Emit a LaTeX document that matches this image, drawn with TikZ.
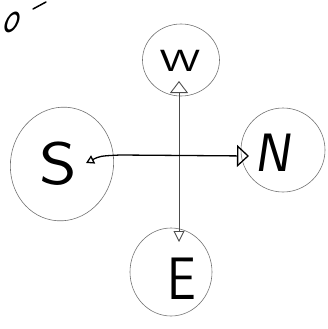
\documentclass[tikz,border=0pt]{standalone}
\usetikzlibrary{arrows.meta,shapes.geometric}
\begin{document}
\begin{tikzpicture}[x=1pt,y=-1pt,
  ring/.style={draw=black!55,line width=0.6pt,ellipse,inner sep=0pt},
  letter/.style={font=\sffamily,inner sep=0pt},
  thinline/.style={draw=black!70,line width=0.9pt},
  thickline/.style={draw=black,line width=1.3pt}]
\useasboundingbox (0,0) rectangle (328,329);
% rings
\node[ring,minimum width=77pt,minimum height=72pt] (Wc) at (181,60) {};
\node[ring,minimum width=103pt,minimum height=114pt,rotate=-10] (Sc) at (62,164) {};
\node[ring,minimum width=84pt,minimum height=84pt] (Nc) at (283,150) {};
\node[ring,minimum width=82pt,minimum height=88pt] (Ec) at (171,272) {};
% letters
\node[letter,font=\sffamily\fontsize{34}{34}\selectfont,xscale=1.35,yscale=0.9] (W) at (180,61) {W};
\node[letter,font=\sffamily\fontsize{60}{60}\selectfont,xscale=1.2] (S) at (58,164) {S};
\node[letter,font=\sffamily\fontsize{54}{54}\selectfont,xslant=0.15] (N) at (275,153) {N};
\node[letter,font=\sffamily\fontsize{60}{60}\selectfont,xscale=0.85] (E) at (182,279) {E};
% arrow ends
\coordinate (wt) at (179,81);
\coordinate (et) at (179,242);
\coordinate (st) at (86,163);
\coordinate (nt) at (249,156);
\draw[thinline,{Triangle[open,length=12pt,width=18pt]}-{Triangle[open,length=11pt,width=11pt]}] (wt) -- (et);
\draw[thickline,{Triangle[open,length=8pt,width=9pt]}-{Triangle[open,length=12pt,width=22pt]}] (st) .. controls (100,156) .. (120,155) -- (nt);
% top-left mark
\node[font=\sffamily\fontsize{32}{32}\selectfont,xslant=0.35,yscale=1.45,inner sep=0pt] (o) at (13,22) {o};
\draw[line width=1.5pt,line cap=round] (33,9) -- (46,2);
\end{tikzpicture}
\end{document}
